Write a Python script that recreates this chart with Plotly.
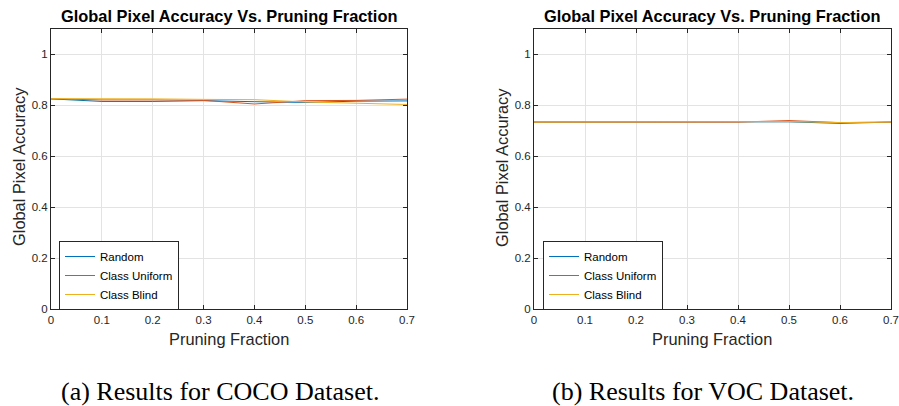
import plotly.graph_objects as go

fractions = [0, 0.1, 0.2, 0.3, 0.4, 0.5, 0.6, 0.7]

coco_random = [0.824, 0.814, 0.814, 0.817, 0.813, 0.810, 0.815, 0.816]
coco_class_uniform = [0.824, 0.820, 0.820, 0.818, 0.804, 0.817, 0.818, 0.823]
coco_class_blind = [0.825, 0.825, 0.824, 0.822, 0.821, 0.812, 0.807, 0.802]

voc_random = [0.733, 0.733, 0.733, 0.732, 0.733, 0.734, 0.728, 0.733]
voc_class_uniform = [0.733, 0.733, 0.733, 0.733, 0.733, 0.739, 0.731, 0.733]
voc_class_blind = [0.733, 0.733, 0.733, 0.733, 0.733, 0.735, 0.731, 0.733]

series_names = ["Random", "Class Uniform", "Class Blind"]
colors = ["#0072BD", "#D95319", "#EDB120"]

title_text = "Global Pixel Accuracy Vs. Pruning Fraction"
x_title = "Pruning Fraction"
y_title = "Global Pixel Accuracy"
captions = ["(a) Results for COCO Dataset.", "(b) Results for VOC Dataset."]
x_ticks = [0, 0.1, 0.2, 0.3, 0.4, 0.5, 0.6, 0.7]
x_tick_labels = ["0", "0.1", "0.2", "0.3", "0.4", "0.5", "0.6", "0.7"]
y_ticks = [0, 0.2, 0.4, 0.6, 0.8, 1.0]
y_tick_labels = ["0", "0.2", "0.4", "0.6", "0.8", "1"]

W, H = 899, 406


def px(x):
    return x / W


def py(y):
    return 1 - y / H


SANS = "Liberation Sans, Arial, Helvetica"
SERIF = "Liberation Serif, Times New Roman"
fig = go.Figure()

datasets = [
    [coco_random, coco_class_uniform, coco_class_blind],
    [voc_random, voc_class_uniform, voc_class_blind],
]

x_domains = [[px(51), px(407)], [px(534), px(891)]]
y_domain = [py(309), py(28.5)]
legend_keys = ["legend", "legend2"]

for i, data in enumerate(datasets):
    xa = "x" if i == 0 else "x2"
    ya = "y" if i == 0 else "y2"
    for name, vals, c in zip(series_names, data, colors):
        fig.add_trace(go.Scatter(
            x=fractions, y=vals, mode="lines", name=name,
            line=dict(color=c, width=1),
            xaxis=xa, yaxis=ya, legend=legend_keys[i],
        ))

axis_common = dict(
    showline=True, linecolor="#262626", linewidth=1, mirror="ticks",
    ticks="inside", ticklen=4, tickcolor="#262626", automargin=False,
    ticklabeloverflow="allow",
    showgrid=True, gridcolor="#e3e3e3", gridwidth=1, zeroline=False,
    tickfont=dict(family=SANS, size=11.5, color="#262626"),
)

for i in range(2):
    sx = "" if i == 0 else "2"
    fig.update_layout(**{
        f"xaxis{sx}": dict(
            axis_common, domain=x_domains[i], range=[0, 0.7],
            tickvals=x_ticks, ticktext=x_tick_labels, anchor="y" + sx,
        ),
        f"yaxis{sx}": dict(
            axis_common, domain=y_domain, range=[0, 1.1],
            tickvals=y_ticks, ticktext=y_tick_labels, anchor="x" + sx,
        ),
    })

legend_common = dict(
    bgcolor="white", bordercolor="#262626", borderwidth=1,
    font=dict(family=SANS, size=11.5, color="#000000"),
    xanchor="left", yanchor="top", tracegroupgap=0, itemwidth=30,
)
fig.update_layout(
    legend=dict(legend_common, x=px(59), y=py(241)),
    legend2=dict(legend_common, x=px(543), y=py(241)),
)

annotations = []
title_x = [229, 712]
ytitle_x = [19, 502]
caption_x = [220, 703]
for i in range(2):
    annotations.append(dict(
        text="<b>" + title_text + "</b>", x=px(title_x[i]), y=py(16.5),
        xref="paper", yref="paper", showarrow=False, xanchor="center", yanchor="middle",
        font=dict(family=SANS, size=16.4, color="#000000"),
    ))
    annotations.append(dict(
        text=x_title, x=px(title_x[i]), y=py(338.5),
        xref="paper", yref="paper", showarrow=False, xanchor="center", yanchor="middle",
        font=dict(family=SANS, size=16.4, color="#262626"),
    ))
    annotations.append(dict(
        text=y_title, x=px(ytitle_x[i]), y=py(167), textangle=-90,
        xref="paper", yref="paper", showarrow=False, xanchor="center", yanchor="middle",
        font=dict(family=SANS, size=16.4, color="#262626"),
    ))
    annotations.append(dict(
        text=captions[i], x=px(caption_x[i]), y=py(391),
        xref="paper", yref="paper", showarrow=False, xanchor="center", yanchor="middle",
        font=dict(family=SERIF, size=26, color="#000000"),
    ))

fig.update_layout(
    width=W, height=H, margin=dict(l=0, r=0, t=0, b=0),
    paper_bgcolor="white", plot_bgcolor="white",
    annotations=annotations, showlegend=True,
)

fig.write_html(
    "out.html",
    config={"displayModeBar": False},
    post_script="document.body.style.margin='0';document.body.style.overflow='hidden';",
)
